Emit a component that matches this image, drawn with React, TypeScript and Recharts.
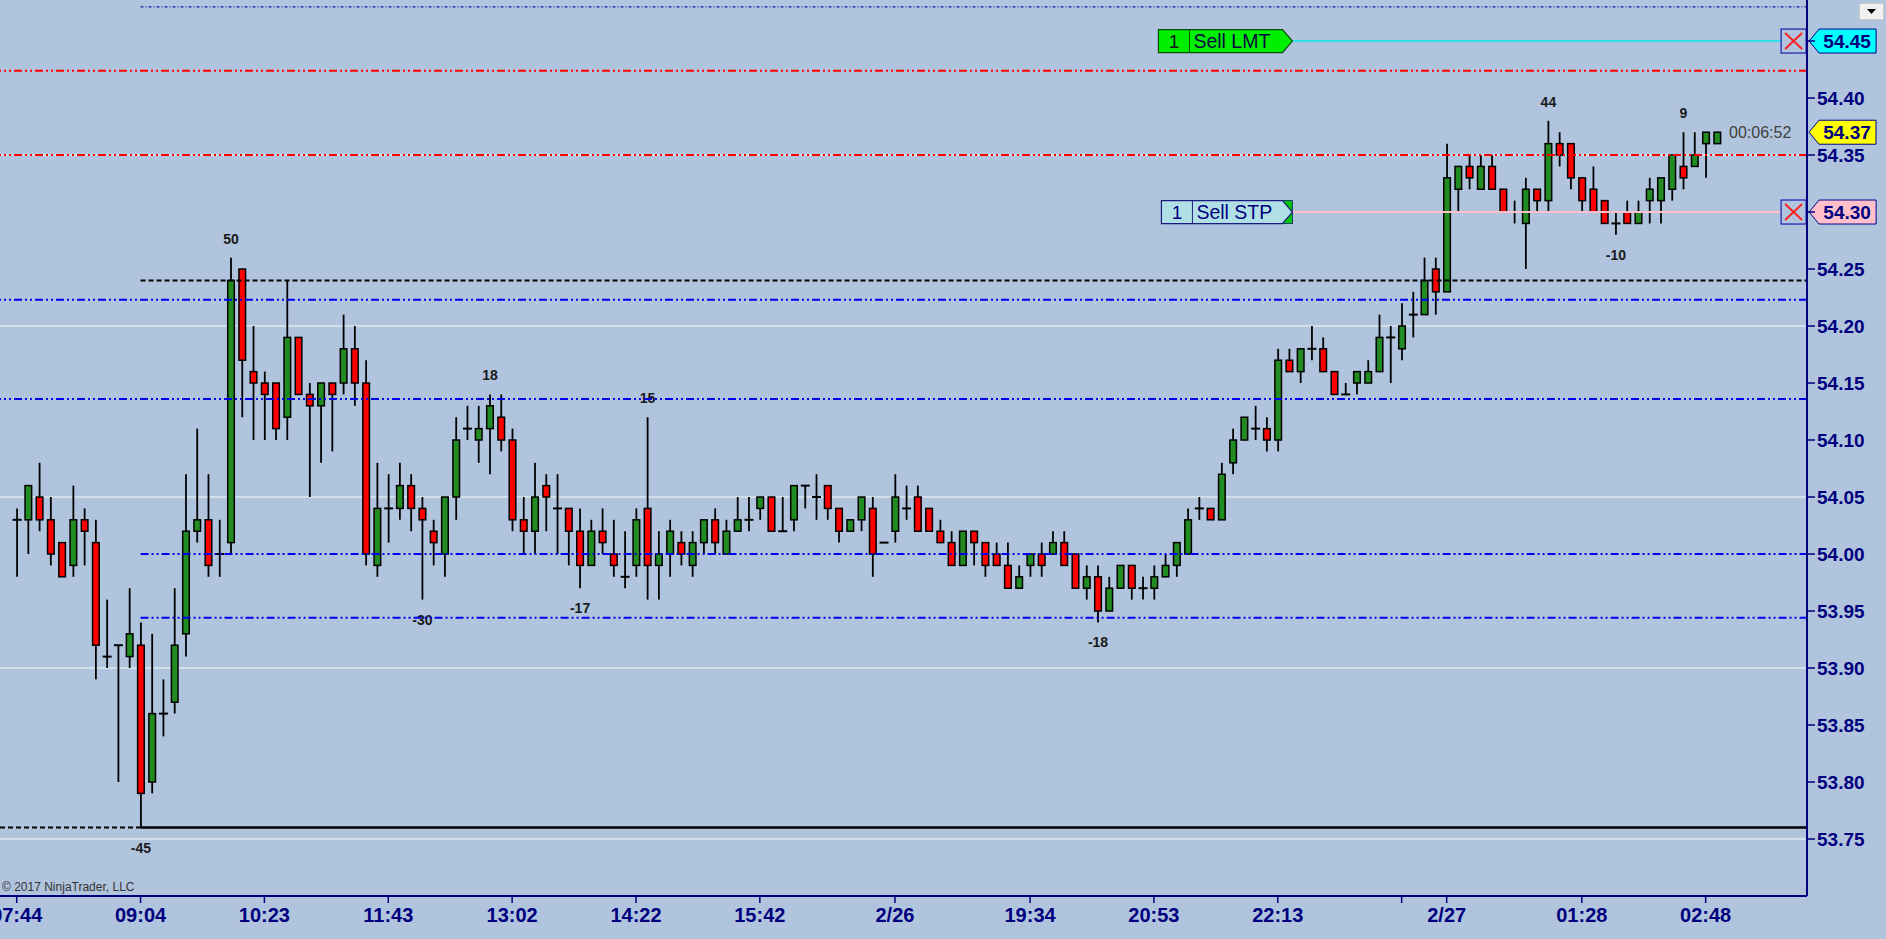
import React from 'react'
import { ComposedChart, Bar, XAxis, YAxis, CartesianGrid, ReferenceLine } from 'recharts'

// candles 1..152
const opens = [
  54.03, 54.03, 54.05, 54.03, 54.01, 53.99, 54.03, 54.01, 53.91, 53.92,
  53.91, 53.92, 53.80, 53.86, 53.87, 53.93, 54.02, 54.03, 54.00, 54.01,
  54.25, 54.16, 54.15, 54.15, 54.12, 54.19, 54.14, 54.13, 54.15, 54.15,
  54.18, 54.15, 53.99, 54.04, 54.04, 54.06, 54.04, 54.02, 54.00, 54.05,
  54.11, 54.10, 54.11, 54.12, 54.10, 54.03, 54.02, 54.06, 54.04, 54.04,
  54.02, 53.99, 54.02, 54.00, 53.98, 53.99, 54.04, 53.99, 54.00, 54.01,
  53.99, 54.01, 54.03, 54.00, 54.02, 54.03, 54.04, 54.05, 54.02, 54.03,
  54.06, 54.05, 54.06, 54.04, 54.02, 54.03, 54.04, 54.01, 54.02, 54.04,
  54.05, 54.04, 54.02, 54.01, 53.99, 54.02, 54.01, 54.00, 53.99, 53.97,
  53.99, 54.00, 54.00, 54.01, 54.00, 53.97, 53.98, 53.95, 53.97, 53.99,
  53.97, 53.97, 53.98, 53.99, 54.00, 54.04, 54.04, 54.03, 54.08, 54.10,
  54.11, 54.11, 54.10, 54.17, 54.16, 54.18, 54.18, 54.16, 54.14, 54.15,
  54.15, 54.16, 54.19, 54.18, 54.21, 54.21, 54.25, 54.23, 54.32, 54.34,
  54.32, 54.34, 54.32, 54.30, 54.29, 54.32, 54.31, 54.36, 54.36, 54.33,
  54.32, 54.31, 54.29, 54.30, 54.29, 54.31, 54.31, 54.32, 54.34, 54.34,
  54.36, 54.36,
]
const highs = [
  54.04, 54.06, 54.08, 54.05, 54.01, 54.06, 54.04, 54.03, 53.96, 53.92,
  53.97, 53.94, 53.93, 53.89, 53.97, 54.07, 54.11, 54.07, 54.03, 54.26,
  54.25, 54.20, 54.16, 54.15, 54.24, 54.19, 54.15, 54.15, 54.15, 54.21,
  54.20, 54.17, 54.08, 54.07, 54.08, 54.07, 54.05, 54.03, 54.05, 54.12,
  54.13, 54.13, 54.14, 54.14, 54.11, 54.05, 54.08, 54.07, 54.07, 54.04,
  54.04, 54.03, 54.04, 54.03, 54.02, 54.04, 54.12, 54.02, 54.03, 54.02,
  54.02, 54.03, 54.04, 54.03, 54.05, 54.05, 54.05, 54.05, 54.05, 54.06,
  54.06, 54.07, 54.06, 54.04, 54.03, 54.05, 54.05, 54.01, 54.07, 54.06,
  54.06, 54.04, 54.03, 54.02, 54.02, 54.02, 54.01, 54.01, 54.01, 53.99,
  54.00, 54.01, 54.02, 54.02, 54.00, 53.99, 53.99, 53.98, 53.99, 53.99,
  53.98, 53.99, 54.00, 54.01, 54.04, 54.05, 54.04, 54.08, 54.11, 54.12,
  54.13, 54.12, 54.18, 54.18, 54.18, 54.20, 54.19, 54.16, 54.15, 54.16,
  54.17, 54.21, 54.20, 54.22, 54.23, 54.26, 54.26, 54.36, 54.34, 54.35,
  54.35, 54.35, 54.32, 54.31, 54.33, 54.32, 54.38, 54.37, 54.36, 54.33,
  54.34, 54.31, 54.30, 54.31, 54.31, 54.33, 54.33, 54.35, 54.37, 54.37,
  54.37, 54.37,
]
const lows = [
  53.98, 54.00, 54.02, 53.99, 53.98, 53.98, 53.99, 53.89, 53.90, 53.80,
  53.90, 53.76, 53.79, 53.84, 53.86, 53.91, 54.01, 53.98, 53.98, 54.00,
  54.12, 54.10, 54.10, 54.10, 54.10, 54.14, 54.05, 54.08, 54.09, 54.14,
  54.13, 53.99, 53.98, 54.01, 54.03, 54.02, 53.96, 53.99, 53.98, 54.03,
  54.10, 54.08, 54.07, 54.09, 54.02, 54.00, 54.00, 54.02, 54.00, 53.99,
  53.97, 53.99, 54.00, 53.98, 53.97, 53.98, 53.96, 53.96, 53.98, 53.99,
  53.98, 54.00, 54.00, 54.00, 54.02, 54.02, 54.03, 54.02, 54.02, 54.02,
  54.04, 54.03, 54.03, 54.01, 54.02, 54.02, 53.98, 54.01, 54.01, 54.03,
  54.02, 54.02, 54.01, 53.99, 53.99, 53.99, 53.98, 53.99, 53.97, 53.97,
  53.98, 53.98, 54.00, 53.99, 53.97, 53.96, 53.94, 53.95, 53.97, 53.96,
  53.96, 53.96, 53.98, 53.98, 54.00, 54.03, 54.03, 54.03, 54.07, 54.10,
  54.10, 54.09, 54.09, 54.16, 54.15, 54.17, 54.16, 54.14, 54.14, 54.14,
  54.15, 54.16, 54.15, 54.17, 54.19, 54.21, 54.21, 54.23, 54.30, 54.32,
  54.32, 54.32, 54.30, 54.29, 54.25, 54.30, 54.30, 54.34, 54.32, 54.30,
  54.30, 54.29, 54.28, 54.29, 54.29, 54.29, 54.29, 54.31, 54.32, 54.34,
  54.33, 54.36,
]
const closes = [
  54.03, 54.06, 54.03, 54.00, 53.98, 54.03, 54.02, 53.92, 53.91, 53.92,
  53.93, 53.79, 53.86, 53.86, 53.92, 54.02, 54.03, 53.99, 54.00, 54.24,
  54.17, 54.15, 54.14, 54.11, 54.19, 54.14, 54.13, 54.15, 54.14, 54.18,
  54.15, 54.00, 54.04, 54.04, 54.06, 54.04, 54.03, 54.01, 54.05, 54.10,
  54.11, 54.11, 54.13, 54.10, 54.03, 54.02, 54.05, 54.05, 54.04, 54.02,
  53.99, 54.02, 54.01, 53.99, 53.98, 54.03, 53.99, 54.00, 54.02, 54.00,
  54.01, 54.03, 54.01, 54.02, 54.03, 54.03, 54.05, 54.02, 54.02, 54.06,
  54.06, 54.05, 54.04, 54.02, 54.03, 54.05, 54.00, 54.01, 54.05, 54.04,
  54.02, 54.02, 54.01, 53.99, 54.02, 54.01, 53.99, 53.99, 53.97, 53.98,
  54.00, 53.99, 54.01, 53.99, 53.97, 53.98, 53.95, 53.97, 53.99, 53.97,
  53.97, 53.98, 53.99, 54.01, 54.03, 54.04, 54.03, 54.07, 54.10, 54.12,
  54.11, 54.10, 54.17, 54.16, 54.18, 54.18, 54.16, 54.14, 54.14, 54.16,
  54.16, 54.19, 54.19, 54.20, 54.21, 54.24, 54.23, 54.33, 54.34, 54.33,
  54.34, 54.32, 54.30, 54.30, 54.32, 54.31, 54.36, 54.35, 54.33, 54.31,
  54.30, 54.29, 54.29, 54.29, 54.30, 54.32, 54.33, 54.35, 54.33, 54.35,
  54.37, 54.37,
]

// swing high / low counters printed above and below bars
const swingIdx = [12, 20, 37, 43, 51, 57, 97, 137, 143, 149]
const swingText = ['-45', '50', '-30', '18', '-17', '15', '-18', '44', '-10', '9']

// time axis
const timeTickIdx = [1, 12, 23, 34, 45, 56, 67, 79, 91, 102, 113, 124, 128, 140, 151]
const timeTickText = ['07:44', '09:04', '10:23', '11:43', '13:02', '14:22', '15:42', '2/26', '19:34', '20:53', '22:13', '', '2/27', '01:28', '02:48']

// price axis
const priceTicks = [53.75, 53.8, 53.85, 53.9, 53.95, 54.0, 54.05, 54.1, 54.15, 54.2, 54.25, 54.3, 54.35, 54.4, 54.45]
const hiddenPriceTicks = [54.3, 54.45]
const gridPrices = [53.75, 53.9, 54.05, 54.2, 54.35]

// levels
const redLevels = [54.424, 54.35]
const blueFullLevels = [54.223, 54.136]
const blueLevelsFromLow = [54.0, 53.944]
const blackDashedLevel = 54.24
const lowLevel = 53.76
const topDottedLevel = 54.48
const limitOrder = 54.45
const stopOrder = 54.3
const lastPrice = 54.37

const X_MIN = -0.483
const X_MAX = 160
const Y_MIN = 53.7
const Y_MAX = 54.486
const ORDER_START = 114.3
const ORDER_END = 157.7
const LEVEL_START = 12

const rows = opens.map((o, i) => {
  const si = swingIdx.indexOf(i + 1)
  return {
    idx: i + 1,
    open: o,
    high: highs[i],
    low: lows[i],
    close: closes[i],
    range: [lows[i], highs[i]],
    swing: si >= 0 ? swingText[si] : null,
  }
})

const FONT = '"Liberation Sans", Arial, sans-serif'
const NAVY = '#00007f'
const DASH_DOT = '8 3 2 3 2 3'

function Candle(props: any) {
  const { x, y, width, height, payload } = props
  if (!payload) return null
  const { open, close, high, low, swing } = payload
  const top = Math.min(y, y + height)
  const h = Math.abs(height)
  const span = high - low
  const py = (v: number) => (span > 0 ? top + ((high - v) / span) * h : top)
  const cx = x + width / 2
  const up = close > open
  const bTop = py(Math.max(open, close))
  const bBot = py(Math.min(open, close))
  return (
    <g>
      <line x1={cx} x2={cx} y1={top} y2={top + h} stroke="#000" strokeWidth={1.8} />
      {open === close ? (
        <line x1={cx - 4.5} x2={cx + 4.5} y1={bTop} y2={bTop} stroke="#000" strokeWidth={2} />
      ) : (
        <rect
          x={cx - 3.3}
          y={bTop}
          width={6.6}
          height={bBot - bTop}
          fill={up ? '#228b22' : '#ff0000'}
          stroke="#000"
          strokeWidth={1.5}
        />
      )}
      {swing && (
        <text
          x={cx}
          y={swing.startsWith('-') ? top + h + 25 : top - 14}
          textAnchor="middle"
          fontFamily={FONT}
          fontWeight="bold"
          fontSize={14}
          fill="#1a1a1a"
        >
          {swing}
        </text>
      )}
    </g>
  )
}

function PriceTag({ x, y, text, fill }: { x: number; y: number; text: string; fill: string }) {
  return (
    <g>
      <polygon
        points={`${x},${y} ${x + 10},${y - 12} ${x + 67},${y - 12} ${x + 67},${y + 12} ${x + 10},${y + 12}`}
        fill={fill}
        stroke="#00008b"
        strokeWidth={1}
      />
      <text x={x + 38} y={y + 7} textAnchor="middle" fontFamily={FONT} fontWeight="bold" fontSize={19} fill={NAVY}>
        {text}
      </text>
    </g>
  )
}

function CancelBox({ x, y }: { x: number; y: number }) {
  return (
    <g>
      <rect x={x} y={y - 12} width={25} height={24} fill="none" stroke="#1c1cb0" strokeWidth={1.2} />
      <line x1={x + 4} y1={y - 8} x2={x + 21} y2={y + 8} stroke="#ff2020" strokeWidth={2} />
      <line x1={x + 21} y1={y - 8} x2={x + 4} y2={y + 8} stroke="#ff2020" strokeWidth={2} />
    </g>
  )
}

function OrderLabel(props: any) {
  const { viewBox, kind, price } = props
  if (!viewBox) return null
  const xs = viewBox.x
  const xe = viewBox.x + viewBox.width
  const yc = viewBox.y
  const lmt = kind === 'lmt'
  const left = lmt ? xs - 134 : xs - 131
  const div = lmt ? xs - 103 : xs - 100
  const top = yc - 11.5
  const bot = yc + 11.5
  const arrow = `${left},${top} ${xs - 10},${top} ${xs},${yc} ${xs - 10},${bot} ${left},${bot}`
  return (
    <g>
      {!lmt && <rect x={xs - 11} y={top} width={11} height={23} fill="#00c800" stroke="#1a3a6a" strokeWidth={1} />}
      <polygon points={arrow} fill={lmt ? '#00f000' : '#b0e0e6'} stroke={lmt ? '#0a4a0a' : '#1a1a80'} strokeWidth={1.2} />
      <line x1={div} x2={div} y1={top} y2={bot} stroke={lmt ? '#0a4a0a' : '#1a1a80'} strokeWidth={1} />
      <text x={(left + div) / 2} y={yc + 7} textAnchor="middle" fontFamily={FONT} fontSize={19} fill={lmt ? '#101010' : NAVY}>
        1
      </text>
      <text x={div + 4} y={yc + 7} fontFamily={FONT} fontSize={19.5} fill={lmt ? '#0a0a40' : NAVY}>
        {lmt ? 'Sell LMT' : 'Sell STP'}
      </text>
      <CancelBox x={xe} y={yc} />
      <PriceTag x={xe + 28} y={yc} text={price.toFixed(2)} fill={lmt ? '#00ffff' : '#ffc0cb'} />
    </g>
  )
}

function LastPriceLabel(props: any) {
  const { viewBox } = props
  if (!viewBox) return null
  const xe = viewBox.x + viewBox.width
  const yc = viewBox.y
  return (
    <g>
      <text x={xe - 78} y={yc + 6} fontFamily={FONT} fontSize={16} fill="#404040">
        00:06:52
      </text>
      <PriceTag x={xe + 2} y={yc} text={lastPrice.toFixed(2)} fill="#ffff00" />
    </g>
  )
}

export default function App(): React.ReactElement {
  return (
    <div
      style={{
        position: 'fixed',
        left: 0,
        top: 0,
        width: 1886,
        height: 939,
        background: '#b0c4de',
        overflow: 'hidden',
      }}
    >
      <ComposedChart width={1886} height={939} data={rows} margin={{ top: 0, right: 0, bottom: 0, left: 0 }}>
        <CartesianGrid vertical={false} horizontalValues={gridPrices} stroke="#dfe8f1" strokeWidth={1.6} />
        <XAxis
          type="number"
          dataKey="idx"
          domain={[X_MIN, X_MAX]}
          allowDataOverflow
          ticks={timeTickIdx}
          interval={0}
          tickFormatter={(v: number) => timeTickText[timeTickIdx.indexOf(v)] ?? ''}
          height={43}
          tickSize={7}
          tickMargin={5}
          axisLine={{ stroke: NAVY, strokeWidth: 2 }}
          tickLine={{ stroke: NAVY, strokeWidth: 1.5 }}
          tick={{ fill: NAVY, fontSize: 20, fontWeight: 'bold', fontFamily: FONT }}
        />
        <YAxis
          orientation="right"
          width={79}
          domain={[Y_MIN, Y_MAX]}
          allowDataOverflow
          ticks={priceTicks}
          interval={0}
          tickFormatter={(v: number) => (hiddenPriceTicks.includes(v) ? '' : v.toFixed(2))}
          tickSize={8}
          tickMargin={2}
          axisLine={{ stroke: NAVY, strokeWidth: 2 }}
          tickLine={{ stroke: NAVY, strokeWidth: 1.5 }}
          tick={{ fill: NAVY, fontSize: 19, fontWeight: 'bold', fontFamily: FONT }}
        />

        {redLevels.map((p) => (
          <ReferenceLine key={`r${p}`} y={p} stroke="#ff0000" strokeWidth={2} strokeDasharray={DASH_DOT} />
        ))}
        {blueFullLevels.map((p) => (
          <ReferenceLine key={`b${p}`} y={p} stroke="#0000ee" strokeWidth={2} strokeDasharray={DASH_DOT} />
        ))}
        {blueLevelsFromLow.map((p) => (
          <ReferenceLine
            key={`bl${p}`}
            segment={[{ x: LEVEL_START, y: p }, { x: X_MAX, y: p }]}
            stroke="#0000ee"
            strokeWidth={2}
            strokeDasharray={DASH_DOT}
          />
        ))}
        <ReferenceLine
          segment={[{ x: LEVEL_START, y: topDottedLevel }, { x: X_MAX, y: topDottedLevel }]}
          stroke="#2020a0"
          strokeWidth={1.3}
          strokeDasharray="3 2 1 2"
        />
        <ReferenceLine
          segment={[{ x: LEVEL_START, y: blackDashedLevel }, { x: X_MAX, y: blackDashedLevel }]}
          stroke="#000"
          strokeWidth={2}
          strokeDasharray="5 3"
        />
        <ReferenceLine
          segment={[{ x: X_MIN, y: lowLevel }, { x: LEVEL_START, y: lowLevel }]}
          stroke="#000"
          strokeWidth={2}
          strokeDasharray="5 3"
        />
        <ReferenceLine
          segment={[{ x: LEVEL_START, y: lowLevel }, { x: X_MAX, y: lowLevel }]}
          stroke="#000"
          strokeWidth={2.5}
        />
        <ReferenceLine
          segment={[{ x: ORDER_START, y: limitOrder }, { x: ORDER_END, y: limitOrder }]}
          stroke="#33ddee"
          strokeWidth={2}
          ifOverflow="visible"
          label={<OrderLabel kind="lmt" price={limitOrder} />}
        />
        <ReferenceLine
          segment={[{ x: ORDER_START, y: stopOrder }, { x: ORDER_END, y: stopOrder }]}
          stroke="#ffc0cb"
          strokeWidth={2}
          ifOverflow="visible"
          label={<OrderLabel kind="stp" price={stopOrder} />}
        />
        <ReferenceLine
          y={lastPrice}
          stroke="none"
          strokeOpacity={0}
          ifOverflow="visible"
          label={<LastPriceLabel />}
        />

        <Bar dataKey="range" barSize={8} shape={Candle} isAnimationActive={false} />
      </ComposedChart>

      <div
        style={{
          position: 'absolute',
          left: 2,
          top: 880,
          fontFamily: FONT,
          fontSize: 12,
          color: '#333',
          whiteSpace: 'nowrap',
        }}
      >
        © 2017 NinjaTrader, LLC
      </div>
      <div
        style={{
          position: 'absolute',
          left: 1859,
          top: 3,
          width: 25,
          height: 17,
          background: '#f0f0f0',
          border: '1px solid #c8c8c8',
          boxSizing: 'border-box',
        }}
      >
        <svg width={23} height={15}>
          <polygon points="7,5 16,5 11.5,10" fill="#000" />
        </svg>
      </div>
    </div>
  )
}
